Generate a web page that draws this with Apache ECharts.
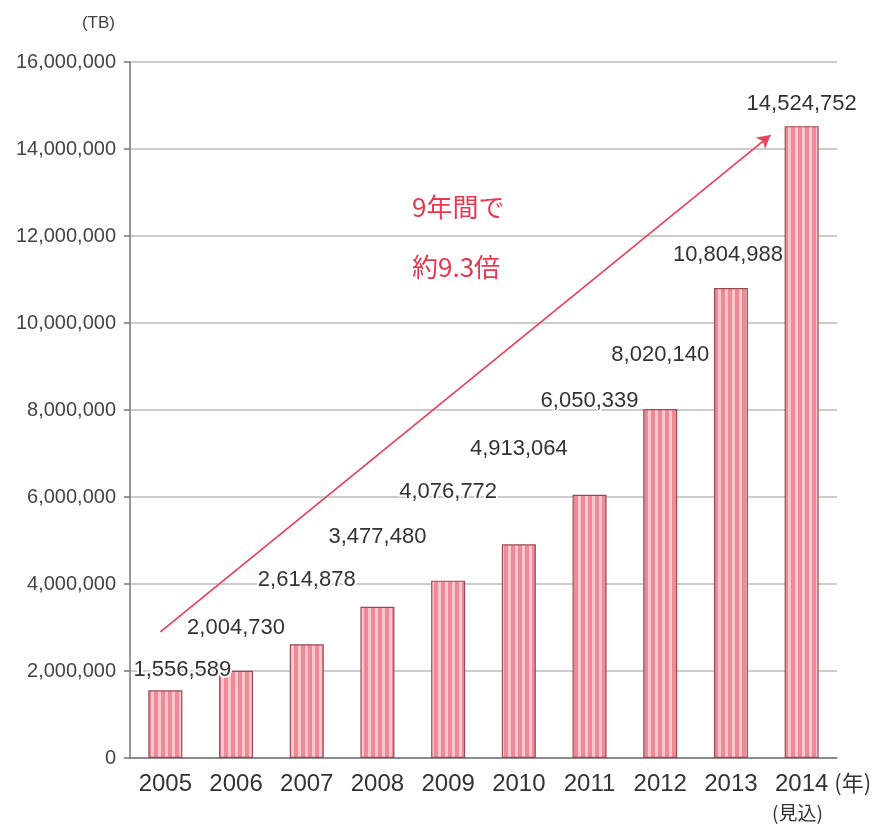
<!DOCTYPE html>
<html>
<head>
<meta charset="utf-8">
<script src="https://cdn.jsdelivr.net/npm/echarts@6/dist/echarts.min.js"></script>
<style>
  html, body { margin: 0; padding: 0; background: #fff; }
  #myChart { width: 872px; height: 829px; }
</style>
</head>
<body>
<div id="myChart"></div>
<script>
  // data
  var years = ['2005', '2006', '2007', '2008', '2009', '2010', '2011', '2012', '2013', '2014'];
  var traffic = [1556589, 2004730, 2614878, 3477480, 4076772, 4913064, 6050339, 8020140, 10804988, 14524752];
  var yTicks = [0, 2000000, 4000000, 6000000, 8000000, 10000000, 12000000, 14000000, 16000000];
  // arrow start/end in (category index, value)
  var arrowFrom = [-0.07, 2900000];
  var arrowTo = [8.56, 14320000];

  // label nudges (layout only)
  var labelDx = [17, 0, 0, 0, 0, 0, 0, 0, -3, 0];
  var labelLift = [4, 27, 48, 54, 73, 79, 78, 38, 17, 6];

  function fmt(v) {
    return String(v).replace(/\B(?=(\d{3})+(?!\d))/g, ',');
  }

  // striped pink fill
  var pat = document.createElement('canvas');
  pat.width = 7; pat.height = 10;
  var ctx = pat.getContext('2d');
  ctx.fillStyle = '#ee8a97';
  ctx.fillRect(0, 0, 7, 10);
  ctx.fillStyle = '#f9c6cc';
  ctx.fillRect(4, 0, 3, 10);

  var font = '"Liberation Sans", sans-serif';
  var jp = '"Noto Sans CJK JP", sans-serif';

  var barData = traffic.map(function (v, i) {
    return {
      value: v,
      label: { offset: [labelDx[i], -labelLift[i]] }
    };
  });

  var myChart = echarts.init(document.getElementById('myChart'));
  myChart.setOption({
    animation: false,
    grid: { left: 130, right: 35, top: 62, bottom: 71, outerBoundsMode: 'none', containLabel: false },
    xAxis: [{
      type: 'category',
      data: years,
      name: '(年)',
      nameLocation: 'end',
      nameGap: -3,
      nameTextStyle: { color: '#333', fontSize: 22, fontFamily: jp, align: 'left', verticalAlign: 'top', padding: [14, 0, 0, 0] },
      axisLine: { lineStyle: { color: '#777', width: 1.5 } },
      axisTick: { show: false },
      axisLabel: { color: '#333', fontSize: 24, fontFamily: font, margin: 14, interval: 0 }
    }, {
      type: 'value',
      min: -0.5,
      max: 9.5,
      show: false
    }],
    yAxis: {
      type: 'value',
      min: 0,
      max: 16000000,
      interval: 2000000,
      name: '(TB)',
      nameLocation: 'end',
      nameGap: 30,
      nameTextStyle: { color: '#444', fontSize: 17, fontFamily: font, align: 'right', padding: [0, 15, 0, 0] },
      axisLine: { show: true, onZero: false, lineStyle: { color: '#777', width: 1.5 } },
      axisTick: { show: true, inside: false, length: 6, lineStyle: { color: '#777', width: 1.5 } },
      axisLabel: {
        color: '#444', fontSize: 20, fontFamily: font, margin: 14,
        formatter: function (v) { return yTicks.indexOf(v) >= 0 ? fmt(v) : ''; }
      },
      splitLine: { lineStyle: { color: '#bbb', width: 1.5 } }
    },
    graphic: [
      { type: 'text', left: 412, top: 194, style: { text: '9年間で', fill: '#e8384f', fontSize: 26, fontFamily: jp } },
      { type: 'text', left: 412, top: 254, style: { text: '約9.3倍', fill: '#e8384f', fontSize: 26, fontFamily: jp } },
      { type: 'text', left: 772, top: 803, style: { text: '(見込)', fill: '#333', fontSize: 19, fontFamily: jp } }
    ],
    series: [{
      type: 'bar',
      data: barData,
      barWidth: 34,
      itemStyle: {
        color: { image: pat, repeat: 'repeat' },
        borderColor: '#9a4a55',
        borderWidth: 1.2
      },
      label: {
        show: true,
        position: 'top',
        distance: 5,
        color: '#333',
        fontSize: 22,
        fontFamily: font,
        textBorderColor: '#fff',
        textBorderWidth: 4,
        formatter: function (p) { return fmt(p.value); }
      },
      z: 3
    }, {
      type: 'line',
      xAxisIndex: 1,
      data: [],
      silent: true,
      markLine: {
        silent: true,
        symbol: ['none', 'arrow'],
        symbolSize: [11, 13],
        label: { show: false },
        lineStyle: { color: '#e8455a', width: 1.8, type: 'solid' },
        data: [[{ coord: arrowFrom }, { coord: arrowTo }]]
      },
      z: 2
    }]
  });
</script>
</body>
</html>
